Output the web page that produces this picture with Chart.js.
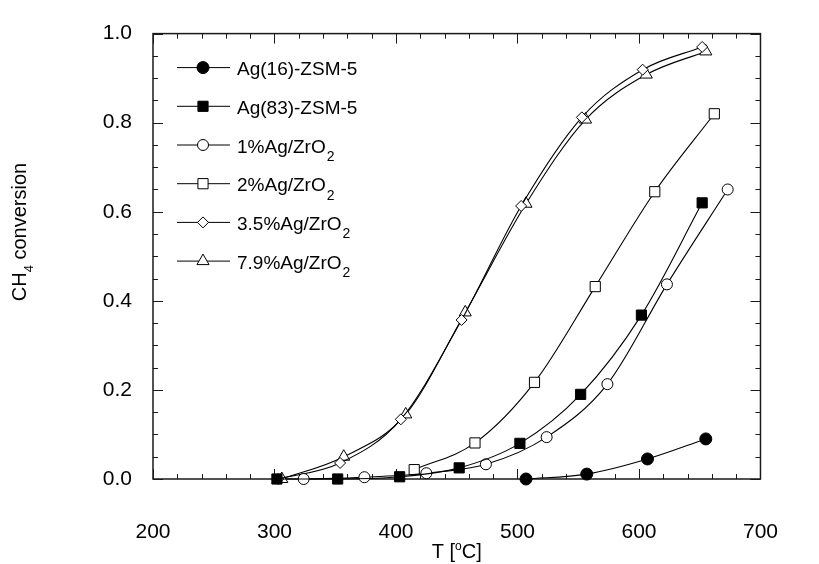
<!DOCTYPE html>
<html>
<head>
<meta charset="utf-8">
<script src="https://cdn.jsdelivr.net/npm/chart.js@4.4.0/dist/chart.umd.min.js"></script>
<style>
  html, body { margin: 0; padding: 0; background: #fff; }
  #wrap { position: relative; width: 819px; height: 564px; }
</style>
</head>
<body>
<div id="wrap"><canvas id="ch4-chart"></canvas></div>
<script>
// values (T in degC, conversion as fraction)
const ag16Temp = [507, 557, 607, 655];
const ag16Conv = [0.0, 0.011, 0.045, 0.09];
const ag83Temp = [302, 352, 403, 452, 502, 552, 602, 652];
const ag83Conv = [0.0, 0.0, 0.005, 0.025, 0.08, 0.19, 0.368, 0.62];
const zr1Temp = [324, 374, 425, 474, 524, 574, 623, 673];
const zr1Conv = [0.0, 0.004, 0.013, 0.033, 0.094, 0.213, 0.437, 0.65];
const zr2Temp = [415, 465, 514, 564, 613, 662];
const zr2Conv = [0.021, 0.081, 0.217, 0.432, 0.645, 0.82];
const zr35Temp = [303, 354, 404, 454, 503, 553, 603, 652];
const zr35Conv = [0.0, 0.036, 0.134, 0.357, 0.613, 0.812, 0.919, 0.97];
const zr79Temp = [306, 357, 408, 457, 507, 556, 606, 655];
const zr79Conv = [0.0, 0.05, 0.145, 0.374, 0.618, 0.807, 0.908, 0.96];

const seriesNames = ["Ag(16)-ZSM-5", "Ag(83)-ZSM-5", "1%Ag/ZrO", "2%Ag/ZrO", "3.5%Ag/ZrO", "7.9%Ag/ZrO"];
const seriesSubs = ["", "", "2", "2", "2", "2"];

const xTickValues = [200, 300, 400, 500, 600, 700];
const yTickValues = [0.0, 0.2, 0.4, 0.6, 0.8, 1.0];
const xMinorStep = 20;
const yMinorStep = 0.05;

const FONT = "'Liberation Sans', Arial, Helvetica, sans-serif";

function pts(temps, convs) {
  return temps.map((t, i) => ({ x: t, y: convs[i] }));
}

function series(i, temps, convs, style, radius, filled) {
  return {
    label: seriesNames[i] + seriesSubs[i],
    data: pts(temps, convs),
    borderColor: "#000",
    borderWidth: 1.1,
    pointStyle: style,
    pointRadius: radius,
    pointHoverRadius: radius,
    pointBorderWidth: 1,
    pointBorderColor: "#000",
    pointBackgroundColor: filled ? "#000" : "#fff",
    cubicInterpolationMode: "monotone",
    fill: false,
    clip: false
  };
}

// box frame with inward major/minor ticks on all four sides
const frameTicks = {
  id: "frameTicks",
  beforeDatasetsDraw(chart) {
    const { ctx, chartArea: a, scales: { x, y } } = chart;
    ctx.save();
    ctx.strokeStyle = "#1a1a1a";
    ctx.lineWidth = 1.5;
    ctx.strokeRect(a.left, a.top, a.right - a.left, a.bottom - a.top);
    ctx.lineWidth = 1;
    ctx.beginPath();
    for (let t = x.min; t <= x.max + 0.001; t += xMinorStep) {
      const px = Math.round(x.getPixelForValue(t)) + 0.5;
      const len = Math.abs(t % 100) < 0.001 ? 10 : 5;
      ctx.moveTo(px, a.bottom); ctx.lineTo(px, a.bottom - len);
      ctx.moveTo(px, a.top); ctx.lineTo(px, a.top + len);
    }
    const n = Math.round((y.max - y.min) / yMinorStep);
    for (let i = 0; i <= n; i++) {
      const py = Math.round(y.getPixelForValue(y.min + i * yMinorStep)) + 0.5;
      const len = i % 4 === 0 ? 10 : 5;
      ctx.moveTo(a.left, py); ctx.lineTo(a.left + len, py);
      ctx.moveTo(a.right, py); ctx.lineTo(a.right - len, py);
    }
    ctx.stroke();
    ctx.restore();
  }
};

// legend inside the plot: line + marker + label with subscript
const legendRows = {
  id: "legendRows",
  afterDatasetsDraw(chart) {
    const { ctx, chartArea: a } = chart;
    chart.data.datasets.forEach((ds, i) => {
      const yy = a.top + 34 + i * 38.7;
      const x0 = a.left + 24;
      ctx.save();
      ctx.strokeStyle = "#000";
      ctx.lineWidth = 1;
      ctx.beginPath();
      ctx.moveTo(x0, yy);
      ctx.lineTo(x0 + 53, yy);
      ctx.stroke();
      ctx.fillStyle = ds.pointBackgroundColor;
      Chart.helpers.drawPoint(ctx, {
        pointStyle: ds.pointStyle, radius: ds.pointRadius, rotation: 0, borderWidth: 1
      }, x0 + 26, yy);
      ctx.fillStyle = "#000";
      ctx.textBaseline = "alphabetic";
      ctx.font = "19px " + FONT;
      ctx.fillText(seriesNames[i], x0 + 60, yy + 7.5);
      if (seriesSubs[i]) {
        const w = ctx.measureText(seriesNames[i]).width;
        ctx.font = "14px " + FONT;
        ctx.fillText(seriesSubs[i], x0 + 60 + w + 1, yy + 16);
      }
      ctx.restore();
    });
  }
};

// axis titles with sub/superscripts
const axisTitles = {
  id: "axisTitles",
  afterDraw(chart) {
    const { ctx, chartArea: a } = chart;
    ctx.save();
    ctx.fillStyle = "#000";
    ctx.textBaseline = "alphabetic";

    // x: T [°C] with raised small o
    ctx.font = "20px " + FONT;
    const p1 = "T [", p3 = "C]";
    const w1 = ctx.measureText(p1).width, w3 = ctx.measureText(p3).width;
    ctx.font = "12px " + FONT;
    const w2 = ctx.measureText("o").width;
    const cx = (a.left + a.right) / 2 - (w1 + w2 + w3) / 2;
    const by = 558;
    ctx.font = "20px " + FONT;
    ctx.fillText(p1, cx, by);
    ctx.font = "12px " + FONT;
    ctx.fillText("o", cx + w1, by - 8);
    ctx.font = "20px " + FONT;
    ctx.fillText(p3, cx + w1 + w2, by);

    // y: CH4 conversion, rotated
    ctx.translate(26, 232);
    ctx.rotate(-Math.PI / 2);
    ctx.font = "20px " + FONT;
    const q1 = "CH", q3 = " conversion";
    const v1 = ctx.measureText(q1).width, v3 = ctx.measureText(q3).width;
    ctx.font = "13px " + FONT;
    const v2 = ctx.measureText("4").width;
    const sx = -(v1 + v2 + v3) / 2;
    ctx.font = "20px " + FONT;
    ctx.fillText(q1, sx, 0);
    ctx.font = "13px " + FONT;
    ctx.fillText("4", sx + v1, 7);
    ctx.font = "20px " + FONT;
    ctx.fillText(q3, sx + v1 + v2, 0);
    ctx.restore();
  }
};

const config = {
  type: "line",
  data: {
    datasets: [
      series(0, ag16Temp, ag16Conv, "circle", 6, true),
      series(1, ag83Temp, ag83Conv, "rect", 7.2, true),
      series(2, zr1Temp, zr1Conv, "circle", 5.5, false),
      series(3, zr2Temp, zr2Conv, "rect", 7.2, false),
      series(4, zr35Temp, zr35Conv, "rectRot", 5.5, false),
      series(5, zr79Temp, zr79Conv, "triangle", 7, false)
    ]
  },
  options: {
    responsive: true,
    maintainAspectRatio: false,
    animation: false,
    layout: { padding: { top: 19, right: 20, left: 0, bottom: 0 } },
    plugins: {
      legend: { display: false },
      tooltip: { enabled: false },
      title: { display: false }
    },
    scales: {
      x: {
        type: "linear",
        min: 200,
        max: 700,
        grid: { display: false, drawTicks: false },
        border: { display: false },
        afterBuildTicks: (s) => { s.ticks = xTickValues.map(v => ({ value: v })); },
        afterFit: (s) => { s.height = 85; },
        ticks: {
          padding: 41,
          color: "#000",
          font: { family: FONT, size: 21 },
          callback: (v) => String(v)
        }
      },
      y: {
        type: "linear",
        min: 0,
        max: 1,
        grid: { display: false, drawTicks: false },
        border: { display: false },
        afterBuildTicks: (s) => { s.ticks = yTickValues.map(v => ({ value: v })); },
        afterFit: (s) => { s.width = 153; },
        ticks: {
          padding: 21,
          color: "#000",
          font: { family: FONT, size: 21 },
          callback: (v) => Number(v).toFixed(1)
        }
      }
    }
  },
  plugins: [frameTicks, legendRows, axisTitles]
};

new Chart(document.getElementById("ch4-chart").getContext("2d"), config);
</script>
</body>
</html>
